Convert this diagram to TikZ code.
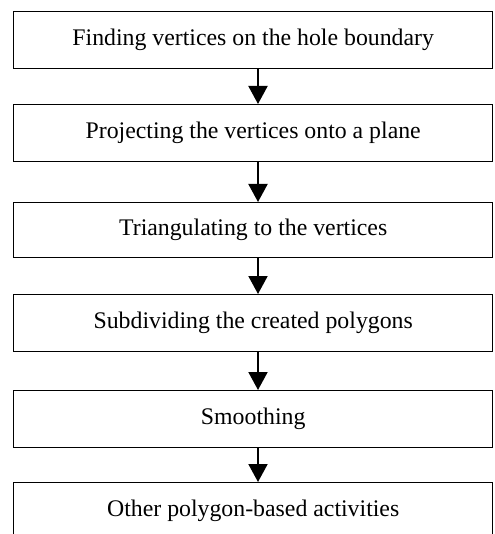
\documentclass[tikz,border=0pt]{standalone}
\usepackage{fontspec}
\setmainfont{Liberation Serif}
\usetikzlibrary{arrows.meta}
\begin{document}
\begin{tikzpicture}[x=1pt,y=1pt,
  stepbox/.style={draw, line width=1.4pt, minimum width=479pt, minimum height=57pt, inner sep=0pt, font=\fontsize{23.8}{28}\selectfont},
  flow/.style={line width=2pt, -{Triangle[length=18pt,width=19pt]}}]
\useasboundingbox[clip] (0,0) rectangle (494,-534);
\node[stepbox, anchor=north west] (b1) at (13,-11) {Finding vertices on the hole boundary};
\node[stepbox, anchor=north west] (b2) at (13,-104) {Projecting the vertices onto a plane};
\node[stepbox, anchor=north west, minimum height=55pt] (b3) at (13,-202) {Triangulating to the vertices};
\node[stepbox, anchor=north west] (b4) at (13,-294) {Subdividing the created polygons};
\node[stepbox, anchor=north west] (b5) at (13,-390) {Smoothing};
\node[stepbox, anchor=north west] (b6) at (13,-482) {Other polygon-based activities};
\coordinate (ax) at (258,0);
\draw[flow] (b1.south -| ax) -- (b2.north -| ax);
\draw[flow] (b2.south -| ax) -- (b3.north -| ax);
\draw[flow] (b3.south -| ax) -- (b4.north -| ax);
\draw[flow] (b4.south -| ax) -- (b5.north -| ax);
\draw[flow] (b5.south -| ax) -- (b6.north -| ax);
\end{tikzpicture}
\end{document}
